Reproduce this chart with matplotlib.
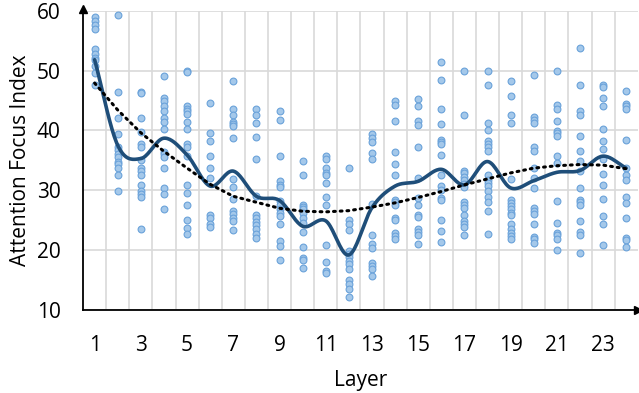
import numpy as np
import matplotlib
matplotlib.use("Agg")
import matplotlib.pyplot as plt

plt.rcParams["font.family"] = ["Open Sans", "DejaVu Sans"]

layers = list(range(1, 25))
scores = [
    [59.0, 58.2, 57.6, 56.9, 53.6, 52.7, 52.1, 51.8, 50.7, 49.6, 47.6],
    [59.3, 46.4, 42.0, 39.4, 37.2, 36.8, 36.1, 35.5, 34.8, 34.4, 33.8, 32.5, 29.9],
    [46.4, 46.2, 42.0, 39.7, 37.7, 37.3, 35.1, 33.7, 33.3, 32.5, 30.9, 29.8, 29.4, 28.8, 23.6],
    [49.1, 45.4, 44.9, 44.1, 43.3, 42.0, 41.4, 40.3, 36.4, 36.1, 35.5, 33.8, 30.3, 29.3, 26.8],
    [50.0, 49.8, 44.1, 43.6, 43.3, 42.7, 41.4, 40.3, 37.7, 37.2, 35.8, 30.8, 29.6, 27.5, 25.1, 23.7, 22.7],
    [44.6, 39.6, 38.3, 35.8, 33.8, 32.0, 25.9, 25.3, 24.4, 23.9],
    [48.3, 43.6, 42.6, 41.4, 41.1, 40.8, 38.8, 31.9, 30.5, 28.6, 26.5, 26.1, 25.4, 24.9, 23.3],
    [43.6, 42.6, 41.3, 38.9, 35.2, 29.0, 25.8, 25.3, 24.7, 24.2, 23.6, 22.7, 22.1],
    [43.3, 41.7, 35.8, 31.5, 30.9, 30.5, 28.2, 27.6, 26.8, 26.2, 25.7, 24.3, 21.5, 20.7, 18.3],
    [34.9, 32.5, 27.6, 27.2, 26.8, 26.2, 25.4, 24.6, 23.0, 20.6, 18.7, 18.3, 17.1],
    [35.8, 35.3, 33.7, 32.9, 32.5, 31.2, 28.8, 27.6, 20.8, 18.1, 16.5, 16.2],
    [33.7, 25.0, 24.3, 23.3, 19.9, 19.4, 18.8, 18.2, 17.7, 16.9, 15.1, 14.4, 13.6, 12.1],
    [39.4, 38.8, 38.1, 36.2, 35.3, 27.7, 22.6, 21.1, 20.4, 17.9, 17.3, 16.8, 15.7],
    [44.9, 44.2, 41.5, 36.4, 34.4, 32.5, 28.4, 28.1, 27.6, 25.4, 25.1, 22.9, 22.3, 21.8],
    [45.2, 44.0, 41.5, 40.9, 37.2, 32.1, 28.7, 27.6, 25.8, 25.5, 23.6, 23.1, 22.5, 21.1],
    [51.5, 48.4, 43.6, 41.1, 38.4, 38.1, 37.7, 35.9, 32.5, 30.7, 30.1, 28.7, 28.4, 25.1, 23.2, 21.3],
    [50.0, 42.5, 33.3, 32.9, 32.3, 31.8, 31.1, 30.5, 28.1, 27.6, 27.1, 25.8, 24.9, 24.4, 23.9, 22.6],
    [50.0, 47.5, 41.2, 40.1, 38.3, 37.7, 37.2, 36.6, 32.6, 31.8, 31.2, 30.7, 29.8, 28.8, 28.1, 26.5, 22.7],
    [48.2, 45.7, 42.5, 41.2, 31.9, 28.4, 27.9, 27.3, 26.8, 26.2, 25.8, 24.4, 23.6, 22.9, 22.3, 21.8],
    [49.2, 42.3, 41.8, 41.3, 37.3, 36.6, 33.8, 32.1, 30.4, 27.1, 26.5, 26.1, 24.3, 22.2, 21.8, 21.2],
    [50.0, 44.3, 43.6, 41.5, 39.9, 39.6, 39.0, 35.7, 34.6, 28.2, 24.6, 22.9, 22.6, 21.8, 20.0],
    [53.8, 47.6, 43.2, 42.5, 39.1, 36.5, 34.9, 33.3, 30.3, 28.4, 28.1, 27.6, 24.9, 23.1, 22.5, 19.6],
    [47.6, 47.2, 45.4, 44.0, 40.3, 38.2, 36.9, 35.3, 32.8, 30.8, 28.6, 25.7, 24.4, 20.9],
    [46.6, 44.4, 44.0, 43.6, 38.4, 33.7, 32.6, 31.7, 28.8, 27.8, 25.3, 22.1, 21.7, 20.6],
]
mean_line = [51.8, 37.5, 35.3, 38.7, 35.9, 30.7, 33.2, 29.0, 28.3, 24.0, 24.9, 19.2,
             27.1, 30.7, 31.5, 33.5, 30.9, 34.8, 30.4, 31.6, 33.0, 33.3, 35.7, 33.7]
trend_line = [47.9, 43.4, 39.6, 36.5, 33.7, 31.0, 29.0, 28.0, 27.0, 26.5, 26.4, 26.6,
              27.2, 27.9, 28.8, 29.8, 30.9, 31.9, 32.9, 33.7, 34.1, 34.3, 34.2, 33.6]


def smooth(x, y, n=20):
    # catmull-rom, roughly what a "smoothed line" does
    x = np.asarray(x, float)
    y = np.asarray(y, float)
    px = np.concatenate([[2 * x[0] - x[1]], x, [2 * x[-1] - x[-2]]])
    py = np.concatenate([[2 * y[0] - y[1]], y, [2 * y[-1] - y[-2]]])
    xs, ys = [], []
    t = np.linspace(0, 1, n, endpoint=False)
    for i in range(1, len(px) - 2):
        for p, out in ((px, xs), (py, ys)):
            p0, p1, p2, p3 = p[i - 1], p[i], p[i + 1], p[i + 2]
            out.extend(0.5 * (2 * p1 + (-p0 + p2) * t + (2 * p0 - 5 * p1 + 4 * p2 - p3) * t**2
                              + (-p0 + 3 * p1 - 3 * p2 + p3) * t**3))
    xs.append(x[-1])
    ys.append(y[-1])
    return np.array(xs), np.array(ys)


fig = plt.figure(figsize=(6.39, 3.93), dpi=100)
ax = fig.add_axes([0.130, 0.211, 0.868, 0.762])

for lay, vals in zip(layers, scores):
    ax.scatter([lay] * len(vals), vals, s=24, color="#A4C8EA", edgecolor="#6AA2DA",
               linewidth=0.8, zorder=3)

sx, sy = smooth(layers, mean_line)
ax.plot(sx, sy, color="#1F4E79", lw=2.6, zorder=4, solid_capstyle="round")
ax.plot(layers, trend_line, color="black", lw=2.2, linestyle=(0, (0.6, 1.6)),
        dash_capstyle="round", zorder=5)

ax.set_xlim(0.5, 24.5)
ax.set_ylim(10, 60)
ax.set_xticks(layers[::2])
ax.set_xticks(np.arange(1.5, 24.5, 1), minor=True)
ax.set_yticks(range(10, 61, 10))
ax.grid(True, which="minor", axis="x", color="#D9D9D9", lw=1.2)
ax.grid(True, which="major", axis="y", color="#D9D9D9", lw=1.2)
ax.set_axisbelow(True)
ax.tick_params(which="both", length=0, labelsize=15)
ax.tick_params(axis="x", pad=18)
ax.tick_params(axis="y", pad=16)

for s in ["top", "right"]:
    ax.spines[s].set_visible(False)
for s in ["left", "bottom"]:
    ax.spines[s].set_linewidth(1.3)

# arrow heads on the axes
ax.plot(0, 1.005, marker="^", ms=6, color="black", transform=ax.transAxes, clip_on=False)
ax.plot(1.0, 0, marker=">", ms=6, color="black", transform=ax.transAxes, clip_on=False)

ax.set_xlabel("Layer", fontsize=15, labelpad=10)
ax.set_ylabel("Attention Focus Index", fontsize=15, labelpad=4)

fig.savefig("out.png", dpi=100)
